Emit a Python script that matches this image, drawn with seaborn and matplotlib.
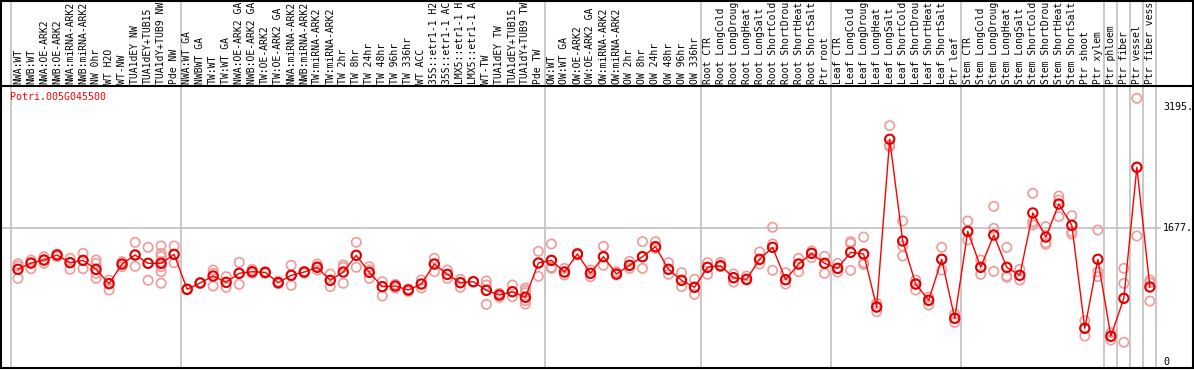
import numpy as np
import pandas as pd
import matplotlib
matplotlib.use("Agg")
import matplotlib.pyplot as plt
from matplotlib.patches import Rectangle
from matplotlib.lines import Line2D
import seaborn as sns

gene = "Potri.005G045500"

labels = [
    "NWA:WT", "NWB:WT", "NWA:OE-ARK2", "NWB:OE-ARK2", "NWA:miRNA-ARK2", "NWB:miRNA-ARK2",
    "NW 0hr", "WT H2O", "WT-NW", "TUA1dEY NW", "TUA1dEY+TUB15", "TUA1dY+TUB9 NW", "Pde NW",
    "NWA:WT GA", "NWBWT GA", "TW:WT", "TW:WT GA", "NWA:OE-ARK2 GA", "NWB:OE-ARK2 GA",
    "TW:OE-ARK2", "TW:OE-ARK2 GA", "NWA:miRNA-ARK2", "NWB:miRNA-ARK2", "TW:miRNA-ARK2",
    "TW:miRNA-ARK2", "TW 2hr", "TW 8hr", "TW 24hr", "TW 48hr", "TW 96hr", "TW 336hr", "WT ACC",
    "35S::etr1-1 H2O", "35S::etr1-1 ACC", "LMX5::etr1-1 H2O", "LMX5::etr1-1 ACC", "WT-TW",
    "TUA1dEY TW", "TUA1dEY+TUB15", "TUA1dY+TUB9 TW", "Pde TW",
    "OW:WT", "OW:WT GA", "OW:OE-ARK2", "OW:OE-ARK2 GA", "OW:miRNA-ARK2", "OW:miRNA-ARK2",
    "OW 2hr", "OW 8hr", "OW 24hr", "OW 48hr", "OW 96hr", "OW 336hr",
    "Root CTR", "Root LongCold", "Root LongDrought", "Root LongHeat", "Root LongSalt",
    "Root ShortCold", "Root ShortDrought", "Root ShortHeat", "Root ShortSalt", "Ptr root",
    "Leaf CTR", "Leaf LongCold", "Leaf LongDrought", "Leaf LongHeat", "Leaf LongSalt",
    "Leaf ShortCold", "Leaf ShortDrought", "Leaf ShortHeat", "Leaf ShortSalt", "Ptr leaf",
    "Stem CTR", "Stem LongCold", "Stem LongDrought", "Stem LongHeat", "Stem LongSalt",
    "Stem ShortCold", "Stem ShortDrought", "Stem ShortHeat", "Stem ShortSalt", "Ptr shoot",
    "Ptr xylem", "Ptr phloem", "Ptr fiber", "Ptr vessel", "Ptr fiber vessel",
]
max_chars = 14  # the chart cuts sample names to 14 characters

# group sizes (vertical separators between groups)
group_sizes = [13, 28, 12, 10, 10, 11, 1, 1, 1, 1]

means = [1160, 1239, 1276, 1339, 1243, 1272, 1160, 980, 1226, 1339, 1235, 1235, 1347,
         910, 989, 1076, 997, 1110, 1130, 1122, 993, 1085, 1126, 1185, 1022, 1126, 1335,
         1122, 943, 951, 901, 976, 1226, 1097, 993, 1005, 897, 839, 880, 810, 1239,
         1272, 1126, 1352, 1110, 1318, 1101, 1210, 1318, 1443, 1160, 1022, 935,
         1185, 1205, 1055, 1035, 1285, 1435, 1030, 1226, 1360, 1235,
         1172, 1373, 1352, 688, 2787, 1514, 976, 772, 1285, 547,
         1635, 1185, 1589, 1185, 1085, 1865, 1564, 1977, 1711, 422, 1285,
         322, 797, 2437, 939]

reps = [
    [1230, 1200, 1047], [1276, 1235, 1168], [1318, 1276, 1235], [1350, 1339, 1318],
    [1297, 1243, 1160], [1360, 1272, 1168], [1276, 1235, 1151, 1110, 1047],
    [1026, 985, 901], [1256, 1226, 1193], [1498, 1339, 1197], [1435, 1235, 1022],
    [1452, 1360, 1318, 1255, 1193, 1130, 985], [1452, 1347, 1243],
    [915, 910, 905], [995, 985], [1151, 1110, 951], [1068, 997, 935], [1247, 1110, 972],
    [1160, 1130, 1110], [1130, 1122, 1110], [1010, 993, 980], [1210, 1085, 960],
    [1135, 1126, 1115], [1226, 1193, 1151], [1101, 1022, 943], [1214, 1185, 985],
    [1498, 1335, 1185], [1193, 1151, 1047], [1005, 943, 826], [972, 951, 926],
    [914, 901, 885], [1026, 976, 926], [1297, 1226, 1130], [1151, 1097, 1047],
    [1035, 993, 935], [1005, 1005, 1005], [1014, 964, 897, 722], [860, 839, 810],
    [964, 880, 818], [926, 897, 868, 810, 768, 726], [1385, 1239, 1072],
    [1477, 1272, 1185, 1172], [1172, 1126, 1089], [1360, 1352, 1340], [1151, 1110, 1068],
    [1448, 1318, 1210], [1130, 1101, 1089], [1260, 1210, 1172], [1506, 1318, 1172],
    [1506, 1443, 1422], [1243, 1160, 1097], [1118, 1022, 943], [1035, 935, 847],
    [1243, 1185, 1097], [1247, 1205, 1193], [1101, 1055, 1001], [1076, 1035, 1026],
    [1377, 1285, 1226], [1686, 1477, 1435, 1147], [1118, 1030, 976], [1297, 1226, 1130],
    [1390, 1360, 1306], [1322, 1235, 1110], [1235, 1172, 1126], [1506, 1485, 1147],
    [1564, 1352, 1243, 1222], [734, 688, 630], [2958, 2716, 2694], [1765, 1452, 1327],
    [1026, 976, 901], [810, 772, 713], [1435, 1285, 1151], [601, 547, 497],
    [1765, 1635, 1527], [1276, 1185, 1097], [1948, 1673, 1135], [1435, 1076, 1060],
    [1160, 1085, 1026], [2111, 1756, 1715], [1694, 1493, 1473], [2077, 2027, 1819],
    [1831, 1631, 1602], [517, 422, 325], [1652, 1130, 1068], [367, 322, 275],
    [1172, 985, 247], [3300, 2437, 1577], [1026, 993, 763],
]

ytick_vals = [0, 1677, 3195]
ytick_text = ["0", "1677.", "3195."]

pos = np.arange(len(labels))
mean_df = pd.DataFrame({"pos": pos, "value": means})
rep_df = pd.DataFrame([(i, v) for i, r in enumerate(reps) for v in r], columns=["pos", "value"])

W, H = 1194, 370
fig = plt.figure(figsize=(W / 100, H / 100), dpi=100)

# pixel -> data mapping: column i centred at x = 18 + 13.01*i, value 0 at y=362, 1677 at y=228
px_per_col = 13.01
x0 = 18.0
py_per_val = 134.0 / 1677.0
ax_left, ax_right = 1, 1157
ax = fig.add_axes([ax_left / W, (H - 368) / H, (ax_right - ax_left) / W, 368 / H])
ax.set_xlim((ax_left - x0) / px_per_col, (ax_right - x0) / px_per_col)
ax.set_ylim((362 - 368) / py_per_val, 362 / py_per_val)
ax.set_axis_off()

def ypix(p):
    return (362 - p) / py_per_val

# group separators
edges = np.cumsum([0] + group_sizes) - 0.5
for e in edges:
    ax.axvline(e, color="#c0c0c0", lw=1.2, zorder=0)

ax.axhline(1677, xmin=0, xmax=1.003, color="#c0c0c0", lw=1.2, zorder=0, clip_on=False)

sns.scatterplot(data=rep_df, x="pos", y="value", ax=ax, s=45, marker="o",
                facecolors="none", edgecolor="#f09a9a", linewidth=1.2, zorder=2, legend=False)
sns.lineplot(data=mean_df, x="pos", y="value", ax=ax, color="#ff0000", lw=1.0, zorder=3)
sns.scatterplot(data=mean_df, x="pos", y="value", ax=ax, s=45, marker="o",
                facecolors="none", edgecolor="#e00000", linewidth=1.5, zorder=4, legend=False)
ax.set_axis_off()

mono = "DejaVu Sans Mono"
for i, lab in enumerate(labels):
    ax.text(i, ypix(84), lab[:max_chars], rotation=90, ha="center", va="bottom",
            fontsize=7.0, family=mono, color="black", clip_on=False)

ax.text((10 - x0) / px_per_col, ypix(97), gene, ha="left", va="center",
        fontsize=7.2, family=mono, color="red")

for v, t in zip(ytick_vals, ytick_text):
    ax.text((1163 - x0) / px_per_col, v, t, ha="left", va="center",
            fontsize=7.2, family=mono, color="black", clip_on=False)

# frame lines
fig.add_artist(Rectangle((1 / W, (H - 368) / H), 1192 / W, 367 / H, transform=fig.transFigure,
                         fill=False, edgecolor="black", lw=1.5))
fig.add_artist(Line2D([0, 1], [(H - 86) / H, (H - 86) / H], transform=fig.transFigure,
                      color="black", lw=1.5))

fig.savefig("out.png", dpi=100)
